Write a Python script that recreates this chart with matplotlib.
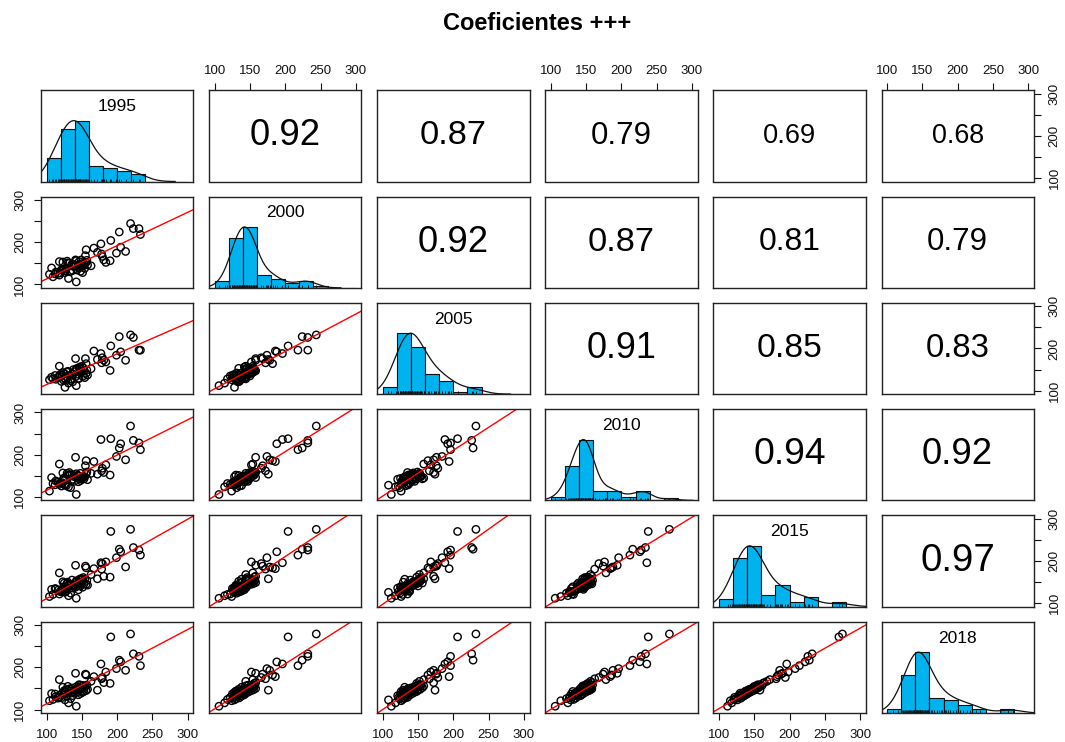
import numpy as np
import matplotlib.pyplot as plt

plt.rcParams['font.family'] = ['Liberation Sans', 'DejaVu Sans']

years = ['1995', '2000', '2005', '2010', '2015', '2018']

# one value per unit and year (first 24 units are the high ones, then the bulk)
v1995 = [219, 191, 223, 231, 203, 233, 205, 177, 199, 212, 184, 141, 155, 156, 167, 179,
         178, 118, 163, 181, 190, 172, 152, 148,
         142, 131, 104, 126, 109, 134, 116, 121, 118, 113, 128, 137, 119, 145, 124, 112,
         107, 148, 135, 122, 151, 139, 125, 144, 127, 153, 133, 141, 125, 156, 138, 146,
         129, 158, 143, 132, 149, 136, 147, 123, 154, 142, 130, 150, 157, 146]
v2000 = [244, 204, 232, 232, 224, 218, 188, 196, 174, 178, 152, 158, 168, 182, 186, 166,
         172, 154, 144, 158, 156, 176, 146, 148,
         106, 114, 124, 128, 118, 131, 126, 135, 122, 129, 138, 133, 127, 142, 136, 125,
         139, 131, 144, 134, 128, 147, 137, 141, 132, 149, 130, 145, 136, 152, 143, 139,
         155, 146, 134, 150, 158, 148, 142, 153, 138, 156, 151, 144, 157, 154]
v2005 = [232, 206, 226, 196, 228, 196, 192, 188, 184, 172, 168, 176, 176, 164, 194, 178,
         166, 158, 152, 172, 148, 174, 154, 152,
         112, 118, 126, 108, 128, 124, 131, 122, 135, 127, 133, 121, 138, 129, 125, 136,
         132, 142, 128, 137, 134, 145, 130, 139, 126, 148, 136, 133, 141, 141, 150, 129,
         144, 137, 153, 135, 147, 139, 156, 143, 131, 151, 146, 158, 149, 154]
v2010 = [268, 238, 234, 228, 216, 212, 226, 236, 196, 188, 176, 194, 174, 186, 184, 168,
         162, 178, 156, 158, 152, 154, 148, 156,
         106, 124, 114, 128, 132, 122, 135, 126, 130, 138, 127, 142, 133, 136, 144, 129,
         146, 139, 138, 134, 148, 137, 145, 150, 131, 143, 152, 147, 139, 154, 149, 144,
         156, 141, 151, 158, 146, 153, 143, 157, 148, 155, 152, 145, 159, 150]
v2015 = [275, 270, 232, 226, 228, 214, 222, 196, 208, 186, 198, 190, 188, 184, 182, 194,
         181, 172, 168, 164, 162, 158, 161, 158,
         112, 118, 116, 126, 121, 124, 131, 127, 122, 134, 129, 136, 128, 132, 139, 135,
         133, 141, 137, 130, 138, 144, 136, 142, 139, 146, 143, 138, 148, 145, 141, 150,
         147, 143, 152, 146, 149, 155, 148, 151, 157, 153, 150, 158, 154, 156]
v2018 = [279, 272, 232, 226, 217, 204, 213, 208, 197, 193, 189, 186, 184, 182, 178, 176,
         173, 171, 167, 164, 162, 146, 157, 158,
         108, 116, 121, 123, 124, 126, 127, 128, 129, 131, 132, 133, 134, 135, 136, 137,
         138, 138, 139, 139, 141, 141, 142, 142, 143, 143, 144, 144, 145, 145, 146, 146,
         147, 148, 148, 149, 150, 151, 152, 153, 153, 154, 155, 156, 158, 159]
series = [v1995, v2000, v2005, v2010, v2015, v2018]

# correlations printed in the upper triangle, row by row
cors = [[0.92, 0.87, 0.79, 0.69, 0.68],
        [0.92, 0.87, 0.81, 0.79],
        [0.91, 0.85, 0.83],
        [0.94, 0.92],
        [0.97]]

breaks = np.arange(100, 301, 20)
ticks = [100, 150, 200, 250, 300]
ylabels = ['100', '', '200', '', '300']
lims = (92, 308)
hist_col = '#00B2EE'

W, H = 1065, 742
fig = plt.figure(figsize=(W / 100, H / 100), dpi=100)

x0, dx, pw = 41, 168.1, 152.3
y0, dy, ph = 90.2, 106.3, 91.3


def kde(x, adjust=1.45):
    # gaussian density on an nrd bandwidth, scaled to a peak of 1
    x = np.asarray(x, float)
    q75, q25 = np.percentile(x, [75, 25])
    bw = adjust * 1.06 * min(x.std(ddof=1), (q75 - q25) / 1.34) * len(x) ** -0.2
    g = np.linspace(x.min() - 3 * bw, x.max() + 3 * bw, 512)
    d = np.exp(-0.5 * ((g[:, None] - x[None, :]) / bw) ** 2).sum(1)
    return g, d / d.max()


for i in range(6):
    for j in range(6):
        ax = fig.add_axes([(x0 + j * dx) / W, 1 - (y0 + i * dy + ph) / H, pw / W, ph / H])
        ax.set_xticks(ticks)
        ax.tick_params(bottom=False, left=False, labelbottom=False, labelleft=False,
                       length=4.8, width=0.8, labelsize=9.5, colors='#111111')
        for s in ax.spines.values():
            s.set_linewidth(1.0)
            s.set_color('#222222')
        x = np.array(series[j], float)
        y = np.array(series[i], float)

        if i == j:
            cnt, _ = np.histogram(x, breaks)
            ax.bar(breaks[:-1], cnt / cnt.max(), width=20, align='edge',
                   color=hist_col, edgecolor='#111111', linewidth=0.8)
            g, d = kde(x)
            ax.plot(g, d, color='#111111', lw=0.9)
            ax.vlines(x, 0, 0.045, color='#111111', lw=0.6)
            ax.set_yticks([])
            ax.set_ylim(0, 1.5)
            ax.text(0.5, 0.82, years[i], transform=ax.transAxes, ha='center', va='center',
                    fontsize=12.5)
        else:
            ax.set_yticks(ticks)
            ax.set_yticklabels(ylabels)
            ax.set_ylim(lims)
            if i < j:
                r = cors[i][j - i - 1]
                ax.text(0.5, 0.5, f'{r:.2f}', transform=ax.transAxes, ha='center',
                        va='center', fontsize=28.5 * r)
            else:
                ax.scatter(x, y, s=28, facecolors='none', edgecolors='black', linewidths=1.0)
                b1, b0 = np.polyfit(x, y, 1)
                ax.axline((0, b0), slope=b1, color='red', lw=1.0)
        ax.set_xlim(lims)

        if i == 0 and j % 2 == 1:
            ax.tick_params(axis='x', top=True, labeltop=True, pad=5)
        if i == 5 and j % 2 == 0:
            ax.tick_params(axis='x', bottom=True, labelbottom=True, pad=7)
        if j == 0 and i % 2 == 1:
            ax.tick_params(axis='y', left=True, labelleft=True, pad=6)
            plt.setp(ax.get_yticklabels(), rotation=90, va='center')
        if j == 5 and i % 2 == 0:
            ax.tick_params(axis='y', right=True, labelright=True, pad=6)
            plt.setp(ax.get_yticklabels(), rotation=90, va='center')

fig.text(537.5 / W, 1 - 23 / H, 'Coeficientes +++', ha='center', va='center',
         fontsize=17, fontweight='bold')

fig.savefig('out.png', dpi=100)
